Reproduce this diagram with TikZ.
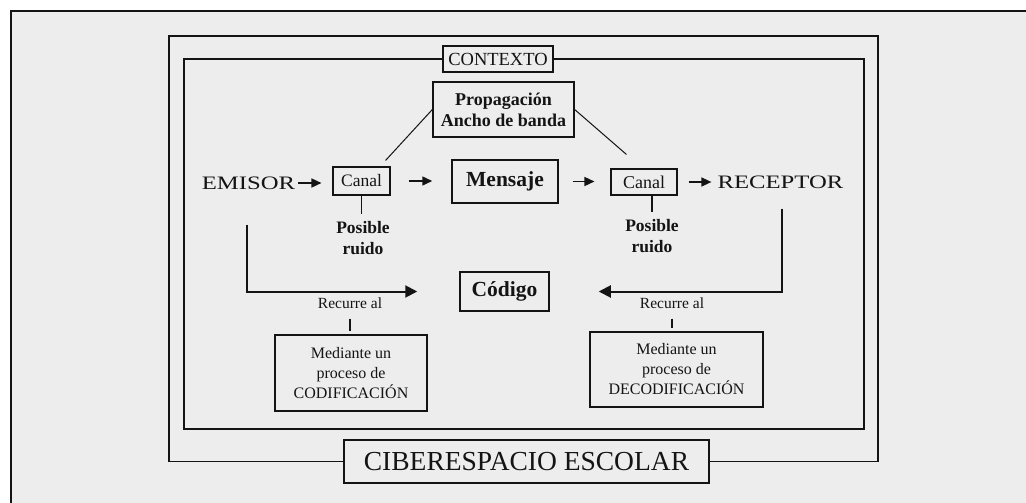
\documentclass[tikz,border=0pt]{standalone}
\usepackage{fontspec}
\setmainfont{Liberation Serif}
\newfontfamily\widefont[FakeStretch=1.3]{Liberation Serif}
\usetikzlibrary{arrows.meta,calc}
\definecolor{bgc}{RGB}{237,237,237}
\definecolor{ink}{RGB}{20,20,20}
\begin{document}
\begin{tikzpicture}[x=1pt,y=-1pt,
  frame/.style={line width=1.5pt, draw=ink},
  boxed/.style={draw=ink, line width=1.3pt, inner sep=0pt, align=center, text=ink},
  plain/.style={inner sep=0pt, align=center, text=ink},
  arr/.style={draw=ink, line width=1.5pt, -{Triangle[length=10pt,width=9pt]}},
  farr/.style={draw=ink, line width=2pt, -{Triangle[length=12pt,width=12pt]}},
  link/.style={draw=ink, line width=1.2pt}]
\useasboundingbox (0,0) rectangle (1026,503);
\fill[white] (0,0) rectangle (1026,503);
\fill[bgc] (11,11) rectangle (1026,503);
\draw[line width=1.5pt, ink] (11,503) -- (11,11) -- (1026,11);

% frame nodes
\node[boxed, minimum width=110, minimum height=26, fill=bgc,
      font=\fontsize{18.5}{20}\selectfont] (contexto) at (498,59) {CONTEXTO};
\node[boxed, minimum width=365, minimum height=43, fill=bgc,
      font=\fontsize{27.5}{30}\selectfont] (ciber) at (526.5,461.5) {CIBERESPACIO ESCOLAR};
\draw[frame] (contexto.west) -| (184,429) -| (864,59) -- (contexto.east);
\draw[frame] (ciber.west) -| (169,36) -| (878,461.5) -- (ciber.east);

% main row
\node[boxed, minimum width=141, minimum height=55,
      font=\bfseries\fontsize{18}{21}\selectfont] (prop) at (503.5,109.5) {Propagación\\Ancho de banda};
\node[plain, font=\widefont\fontsize{19}{22}\selectfont] (emisor) at (248.5,183) {EMISOR};
\node[boxed, line width=1.1pt, minimum width=57, minimum height=28,
      font=\fontsize{17.5}{20}\selectfont] (canal1) at (361.5,181) {Canal};
\node[boxed, line width=1.5pt, minimum width=106, minimum height=43,
      font=\bfseries\fontsize{21.5}{24}\selectfont] (mensaje) at (505,181.5) {Mensaje};
\node[boxed, line width=1.1pt, minimum width=66, minimum height=26,
      font=\fontsize{18}{20}\selectfont] (canal2) at (644,182) {Canal};
\node[plain, font=\widefont\fontsize{19}{22}\selectfont] (receptor) at (780.5,182) {RECEPTOR};

\node[plain, font=\bfseries\fontsize{17.5}{21}\selectfont] (ruido1) at (363,238) {Posible\\ruido};
\node[plain, font=\bfseries\fontsize{17.5}{21}\selectfont] (ruido2) at (652,236) {Posible\\ruido};

\node[boxed, line width=1.5pt, minimum width=89, minimum height=39,
      font=\bfseries\fontsize{21.5}{24}\selectfont] (codigo) at (504.5,291.5) {Código};

\node[plain, font=\fontsize{15.5}{18}\selectfont] (rec1) at (350,303) {Recurre al};
\node[plain, font=\fontsize{15.5}{18}\selectfont] (rec2) at (672,303) {Recurre al};
\node[boxed, line width=1.2pt, minimum width=152, minimum height=76,
      font=\fontsize{16}{20}\selectfont] (proc1) at (351,373) {Mediante un\\proceso de\\CODIFICACIÓN};
\node[boxed, line width=1.2pt, minimum width=173, minimum height=75,
      font=\fontsize{16}{20}\selectfont] (proc2) at (676.5,369.5) {Mediante un\\proceso de\\DECODIFICACIÓN};

% connectors
\draw[link, line width=1pt] (prop.west) -- ($(canal1.north east)+(-5,-6)$);
\draw[link, line width=1pt] (prop.east) -- ($(canal2.north west)+(16,-14)$);

\draw[arr, shorten <=3pt, shorten >=11pt] (emisor.east) -- (emisor.east -| canal1.west);
\draw[arr, shorten <=18pt, shorten >=19pt] (canal1.east) -- (canal1.east -| mensaje.west);
\draw[arr, shorten <=14pt, shorten >=16pt] (mensaje.east) -- (mensaje.east -| canal2.west);
\draw[arr, shorten <=11pt, shorten >=6pt] (canal2.east) -- (canal2.east -| receptor.west);

\draw[link, shorten >=7pt] (canal1.south) -- (canal1.south |- ruido1.north);
\draw[link, shorten >=7pt] (ruido2.north |- canal2.south) -- (ruido2.north);

\draw[farr] ($(emisor.south)+(-2,35)$) |- ($(codigo.west)+(-42,0)$);
\draw[farr] ($(receptor.south)+(1.5,20)$) |- ($(codigo.east)+(49,0)$);

\draw[link, shorten <=10pt, shorten >=3pt] (rec1.south) -- (rec1.south |- proc1.north);
\draw[link, shorten <=10pt, shorten >=3pt] (rec2.south) -- (rec2.south |- proc2.north);
\end{tikzpicture}
\end{document}
